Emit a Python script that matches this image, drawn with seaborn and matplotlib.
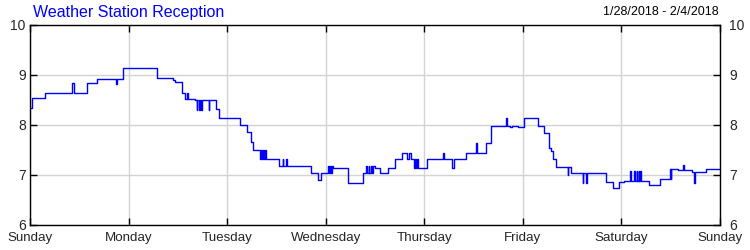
import matplotlib
matplotlib.use("Agg")
import matplotlib.pyplot as plt
import seaborn as sns
import pandas as pd
import numpy as np

# ---- data (hours since Sunday 00:00, signal value) ----
hours = [0.0, 0.49, 3.58, 10.15, 10.79, 12.10, 12.90, 13.81, 16.31, 20.82, 21.30, 22.57,
         30.92, 34.82, 35.30, 36.94, 37.62, 38.23, 38.37, 40.17, 40.59, 40.78, 41.03, 41.39,
         41.64, 41.95, 43.58, 43.70, 45.29, 46.02, 51.13, 52.76, 53.81, 54.37, 56.00, 56.24,
         56.41, 56.73, 56.90, 57.22, 57.39, 60.70, 61.53, 61.67, 62.33, 62.48, 68.42, 70.20,
         70.78, 72.48, 72.68, 73.04, 73.29, 73.53, 73.77, 77.50, 81.15, 81.81, 82.05, 82.42,
         82.66, 83.03, 83.27, 83.63, 84.00, 85.22, 87.24, 88.87, 90.65, 91.72, 92.28, 92.65,
         93.50, 93.67, 93.99, 94.16, 94.47, 96.74, 100.63, 100.78, 102.68, 103.31, 106.08,
         108.59, 108.74, 110.96, 112.17, 115.97, 116.12, 116.87, 117.24, 118.82, 120.35,
         123.76, 125.22, 126.37, 126.78, 127.41, 128.07, 130.92, 131.06, 131.72, 134.57,
         134.76, 135.37, 135.57, 140.17, 142.02, 143.48, 144.63, 146.09, 146.26, 147.06,
         147.23, 147.67, 147.84, 148.16, 148.33, 148.64, 148.81, 150.71, 153.39, 155.83,
         156.00, 156.19, 157.85, 158.99, 159.16, 161.11, 161.67, 161.84, 164.59, 168.0]
values = [8.34, 8.54, 8.65, 8.85, 8.65, 8.63, 8.65, 8.85, 8.93, 8.82, 8.93, 9.13,
          8.94, 8.90, 8.87, 8.65, 8.53, 8.65, 8.53, 8.51, 8.31, 8.51, 8.31, 8.51,
          8.31, 8.51, 8.31, 8.51, 8.33, 8.13, 8.01, 7.87, 7.67, 7.50, 7.33, 7.50,
          7.33, 7.50, 7.33, 7.50, 7.33, 7.18, 7.33, 7.18, 7.33, 7.18, 7.05, 6.90,
          7.05, 7.18, 7.05, 7.18, 7.05, 7.18, 7.15, 6.85, 7.05, 7.18, 7.05, 7.18,
          7.05, 7.18, 7.05, 7.18, 7.15, 7.05, 7.15, 7.33, 7.45, 7.33, 7.45, 7.33,
          7.15, 7.33, 7.15, 7.33, 7.15, 7.33, 7.45, 7.33, 7.15, 7.33, 7.45,
          7.65, 7.45, 7.65, 7.99, 8.13, 7.99, 7.97, 7.99, 7.97, 8.13,
          7.99, 7.85, 7.55, 7.49, 7.33, 7.17, 7.00, 7.17, 7.05, 6.85,
          7.05, 6.85, 7.05, 6.87, 6.75, 6.87, 6.89, 7.09, 6.89, 7.09,
          6.89, 7.09, 6.89, 7.09, 6.89, 7.09, 6.89, 6.80, 6.92, 7.13,
          6.92, 7.13, 7.10, 7.20, 7.10, 7.07, 6.85, 7.07, 7.13, 7.13]
day_labels = ["Sunday", "Monday", "Tuesday", "Wednesday", "Thursday", "Friday", "Saturday", "Sunday"]
y_ticks = [6, 7, 8, 9, 10]
title = "Weather Station Reception"
date_range = "1/28/2018 - 2/4/2018"

df = pd.DataFrame({"day": np.array(hours) / 24.0, "value": values})

sns.set_theme(style="white")
plt.rcParams["font.family"] = ["Liberation Sans", "DejaVu Sans"]

fig = plt.figure(figsize=(7.5, 2.5), dpi=100)
ax = fig.add_axes([0.04, 0.10, 0.92, 0.80])

sns.lineplot(data=df, x="day", y="value", ax=ax, color="#0000ff", linewidth=1.0,
             drawstyle="steps-post", estimator=None, sort=False)

ax.set_xlim(0, 7)
ax.set_ylim(6, 10)
ax.set_xticks(range(len(day_labels)))
ax.set_xticklabels(day_labels, fontsize=9.6)
ax.set_yticks(y_ticks)
ax.set_yticklabels([str(v) for v in y_ticks], fontsize=10)
ax.set_xlabel("")
ax.set_ylabel("")
ax.grid(True, color="#d3d3d3", linewidth=1.0)
ax.set_axisbelow(True)
for s in ax.spines.values():
    s.set_visible(True)
    s.set_color("black")
    s.set_linewidth(1.0)
ax.tick_params(axis="both", which="both", direction="in", length=5, width=1, color="black",
               top=True, right=False, bottom=True, left=True,
               labelright=False, labelleft=True, labelsize=10, pad=3)
ax.tick_params(axis="x", pad=5, labelsize=9.6)

# right-hand value axis (same scale)
ax2 = ax.twinx()
ax2.set_ylim(ax.get_ylim())
ax2.set_yticks(y_ticks)
ax2.set_yticklabels([str(v) for v in y_ticks], fontsize=10)
ax2.grid(False)
ax2.tick_params(axis="y", direction="in", length=5, width=1, color="black", pad=6.5, labelsize=10)
for s in ax2.spines.values():
    s.set_visible(False)

fig.text(0.044, 0.952, title, color="#0000ff", fontsize=11.5, ha="left", va="center")
fig.text(0.958, 0.952, date_range, color="black", fontsize=9, ha="right", va="center")

fig.savefig("out.png", dpi=100)
